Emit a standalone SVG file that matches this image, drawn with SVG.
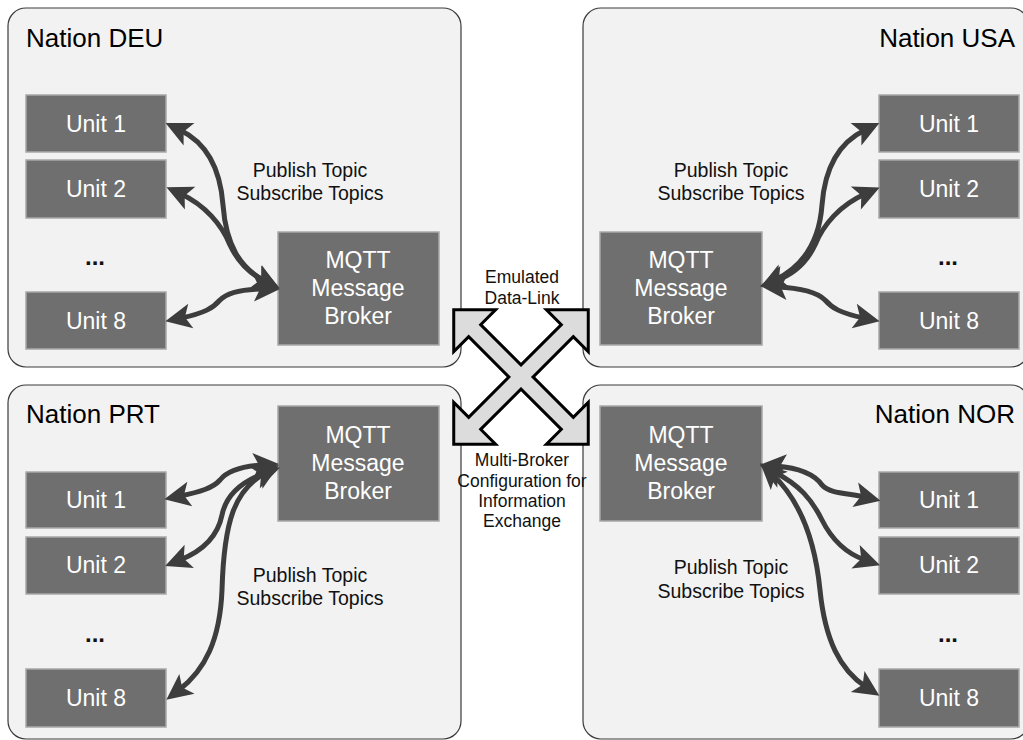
<svg xmlns="http://www.w3.org/2000/svg" width="1023" height="740" viewBox="0 0 1023 740">
<style>
text{font-family:"Liberation Sans",Arial,sans-serif}
.panel{fill:#f2f2f2;stroke:#3a3a3a;stroke-width:1.2}
.box{fill:#6f6f6f;stroke:#a8a8a8;stroke-width:1.5}
.ut{font-size:23px;fill:#ffffff;text-anchor:middle}
.bt{font-size:23px;fill:#ffffff;text-anchor:middle}
.title{font-size:26px;fill:#000}
.lbl{font-size:19.5px;fill:#111;text-anchor:middle}
.cl{font-size:17.5px;fill:#111;text-anchor:middle}
.dots{font-size:24px;font-weight:bold;fill:#111;text-anchor:middle}
.con{fill:none;stroke:#3d3d3d;stroke-width:5;marker-start:url(#ah);marker-end:url(#ah)}
.xs{fill:none;stroke:#000;stroke-width:6;stroke-linejoin:miter}
.xf{fill:#dcdcdc;stroke:none}
</style>
<defs>
<marker id="ah" markerUnits="userSpaceOnUse" markerWidth="28" markerHeight="26" refX="10" refY="12.5" orient="auto-start-reverse" overflow="visible">
<path d="M0,0 L26,12.5 L0,25 L6,12.5 Z" fill="#3d3d3d"/>
</marker>
<path id="xarrow" d="M-93,0 L-67,-26 L-67,-7 L67,-7 L67,-26 L93,0 L67,26 L67,7 L-67,7 L-67,26 Z"/>
</defs>
<rect width="1023" height="740" fill="#ffffff"/>

<g id="nation-deu">
<rect class="panel" x="8" y="8" width="453" height="359" rx="18"/>
<text class="title" x="26" y="47">Nation DEU</text>
</g>
<g id="nation-usa">
<rect class="panel" x="583" y="8" width="446" height="359" rx="18"/>
<text class="title" x="1015" y="47" text-anchor="end">Nation USA</text>
</g>
<g id="nation-prt">
<rect class="panel" x="8" y="385" width="453" height="354" rx="18"/>
<text class="title" x="26" y="423">Nation PRT</text>
</g>
<g id="nation-nor">
<rect class="panel" x="583" y="385" width="446" height="354" rx="18"/>
<text class="title" x="1015" y="423" text-anchor="end">Nation NOR</text>
</g>

<g id="deu-unit1"><rect class="box" x="26" y="95" width="140" height="57"/><text class="ut" x="96" y="132">Unit 1</text></g>
<g id="deu-unit2"><rect class="box" x="26" y="160" width="140" height="58"/><text class="ut" x="96" y="197">Unit 2</text></g>
<g id="deu-dots"><text class="dots" x="95" y="265">...</text></g>
<g id="deu-unit8"><rect class="box" x="26" y="292" width="140" height="57"/><text class="ut" x="96" y="329">Unit 8</text></g>
<g id="deu-broker"><rect class="box" x="278" y="232" width="161" height="113"/><text class="bt" x="358" y="268">MQTT</text><text class="bt" x="358" y="296">Message</text><text class="bt" x="358" y="324">Broker</text></g>
<g id="deu-label"><text class="lbl" x="310" y="177">Publish Topic</text><text class="lbl" x="310" y="200">Subscribe Topics</text></g>

<g id="usa-unit1"><rect class="box" x="879" y="95" width="140" height="57"/><text class="ut" x="949" y="132">Unit 1</text></g>
<g id="usa-unit2"><rect class="box" x="879" y="160" width="140" height="58"/><text class="ut" x="949" y="197">Unit 2</text></g>
<g id="usa-dots"><text class="dots" x="948" y="265">...</text></g>
<g id="usa-unit8"><rect class="box" x="879" y="292" width="140" height="57"/><text class="ut" x="949" y="329">Unit 8</text></g>
<g id="usa-broker"><rect class="box" x="600" y="232" width="162" height="113"/><text class="bt" x="681" y="268">MQTT</text><text class="bt" x="681" y="296">Message</text><text class="bt" x="681" y="324">Broker</text></g>
<g id="usa-label"><text class="lbl" x="731" y="177">Publish Topic</text><text class="lbl" x="731" y="200">Subscribe Topics</text></g>

<g id="prt-unit1"><rect class="box" x="26" y="472" width="140" height="56"/><text class="ut" x="96" y="508">Unit 1</text></g>
<g id="prt-unit2"><rect class="box" x="26" y="537" width="140" height="57"/><text class="ut" x="96" y="573">Unit 2</text></g>
<g id="prt-dots"><text class="dots" x="95" y="642">...</text></g>
<g id="prt-unit8"><rect class="box" x="26" y="669" width="140" height="58"/><text class="ut" x="96" y="706">Unit 8</text></g>
<g id="prt-broker"><rect class="box" x="278" y="406" width="161" height="115"/><text class="bt" x="358" y="443">MQTT</text><text class="bt" x="358" y="471">Message</text><text class="bt" x="358" y="499">Broker</text></g>
<g id="prt-label"><text class="lbl" x="310" y="582">Publish Topic</text><text class="lbl" x="310" y="605">Subscribe Topics</text></g>

<g id="nor-unit1"><rect class="box" x="879" y="472" width="140" height="56"/><text class="ut" x="949" y="508">Unit 1</text></g>
<g id="nor-unit2"><rect class="box" x="879" y="537" width="140" height="57"/><text class="ut" x="949" y="573">Unit 2</text></g>
<g id="nor-dots"><text class="dots" x="948" y="642">...</text></g>
<g id="nor-unit8"><rect class="box" x="879" y="669" width="140" height="58"/><text class="ut" x="949" y="706">Unit 8</text></g>
<g id="nor-broker"><rect class="box" x="600" y="406" width="162" height="115"/><text class="bt" x="681" y="443">MQTT</text><text class="bt" x="681" y="471">Message</text><text class="bt" x="681" y="499">Broker</text></g>
<g id="nor-label"><text class="lbl" x="731" y="574">Publish Topic</text><text class="lbl" x="731" y="598">Subscribe Topics</text></g>

<g id="connectors">
<path class="con" d="M180,130 C205,142 220,165 223,205 C226,245 240,268 265,281"/>
<path class="con" d="M181,194 C205,205 222,225 230,245 C238,262 250,274 265,281"/>
<path class="con" d="M181,318 C205,313 213,308 220,300 C228,292 245,289 264,289"/>

<path class="con" d="M865,130 C840,142 825,165 822,205 C819,245 800,268 775,280"/>
<path class="con" d="M865,194 C840,205 823,225 815,245 C807,262 795,274 775,281"/>
<path class="con" d="M864,318 C840,313 832,308 825,300 C817,292 800,288 777,287"/>

<path class="con" d="M180,496 C200,492 213,488 220,480 C228,470 245,466 263,465"/>
<path class="con" d="M180,560 C205,550 218,535 222,515 C226,495 240,482 265,473"/>
<path class="con" d="M179,690 C205,670 220,640 222,590 C224,520 235,490 265,473"/>

<path class="con" d="M776,466 C800,468 815,475 822,485 C830,494 848,493 865,497"/>
<path class="con" d="M774,472 C800,485 812,500 822,520 C832,540 845,553 865,560"/>
<path class="con" d="M772,474 C800,500 815,540 820,590 C825,640 840,670 866,687"/>
</g>

<g id="data-link">
<use href="#xarrow" class="xs" transform="translate(521,377) rotate(45)"/>
<use href="#xarrow" class="xs" transform="translate(521,377) rotate(-45)"/>
<use href="#xarrow" class="xf" transform="translate(521,377) rotate(45)"/>
<use href="#xarrow" class="xf" transform="translate(521,377) rotate(-45)"/>
</g>
<g id="link-labels">
<text class="cl" x="522" y="283">Emulated</text>
<text class="cl" x="522" y="304">Data-Link</text>
<text class="cl" x="522" y="466">Multi-Broker</text>
<text class="cl" x="522" y="487">Configuration for</text>
<text class="cl" x="522" y="507">Information</text>
<text class="cl" x="522" y="527">Exchange</text>
</g>
</svg>
